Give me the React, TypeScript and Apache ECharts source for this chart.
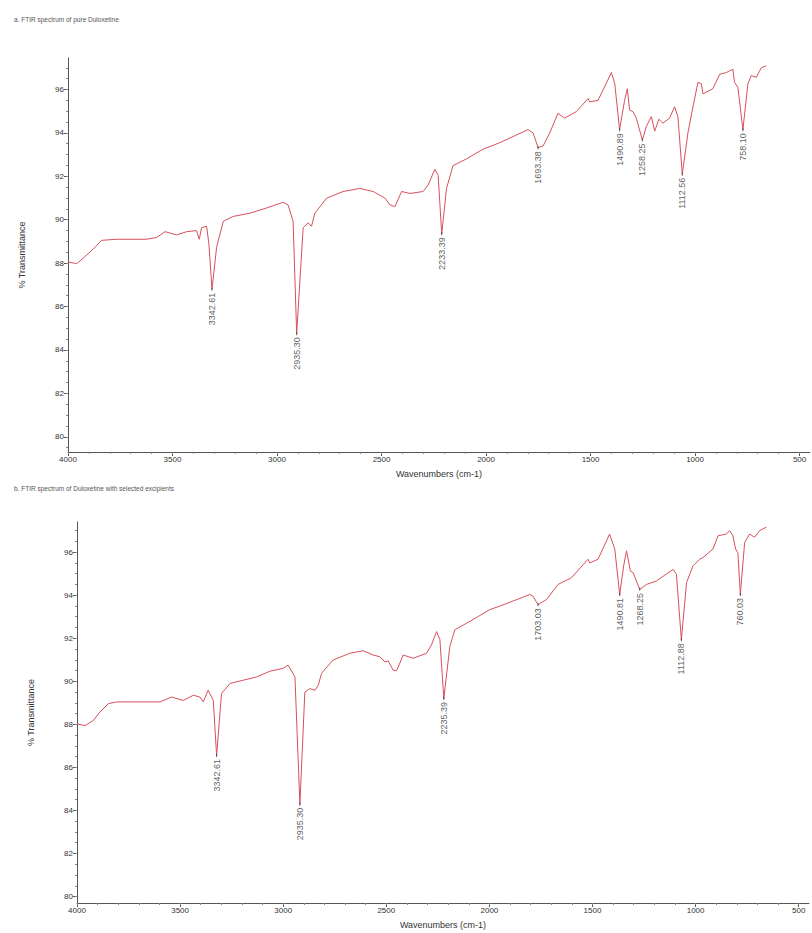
import React, { useEffect, useRef } from "react";
import * as echarts from "echarts";

// ---------- data ----------
const TITLE_A = "a. FTIR spectrum of pure Duloxetine";
const TITLE_B = "b. FTIR spectrum of Duloxetine with selected excipients";

const X_TICKS = [500, 1000, 1500, 2000, 2500, 3000, 3500, 4000];
const Y_TICKS = [80, 82, 84, 86, 88, 90, 92, 94, 96];

const TOP_WN = [4000, 3958, 3919, 3879, 3839, 3767, 3624, 3576, 3536, 3480, 3432, 3385, 3372, 3361, 3337, 3326, 3311, 3289, 3257, 3210, 3130, 3050, 2971, 2947, 2923, 2906, 2875, 2851, 2835, 2819, 2763, 2684, 2604, 2540, 2484, 2460, 2436, 2404, 2365, 2301, 2277, 2245, 2229, 2212, 2189, 2158, 2094, 2014, 1934, 1799, 1775, 1751, 1727, 1695, 1656, 1624, 1568, 1512, 1504, 1464, 1400, 1384, 1361, 1337, 1324, 1313, 1297, 1281, 1252, 1233, 1209, 1193, 1173, 1154, 1122, 1098, 1082, 1061, 1034, 1010, 986, 970, 962, 915, 882, 850, 835, 819, 811, 795, 771, 747, 731, 707, 683, 659];
const TOP_T = [88.05, 87.98, 88.3, 88.65, 89.05, 89.1, 89.1, 89.18, 89.45, 89.3, 89.45, 89.5, 89.1, 89.63, 89.7, 88.9, 86.8, 88.73, 89.93, 90.15, 90.3, 90.54, 90.8, 90.68, 89.93, 84.75, 89.63, 89.86, 89.7, 90.3, 90.99, 91.3, 91.44, 91.3, 91.0, 90.69, 90.6, 91.3, 91.21, 91.3, 91.6, 92.32, 92.05, 89.35, 91.44, 92.49, 92.8, 93.25, 93.55, 94.15, 94.0, 93.32, 93.4, 94.0, 94.9, 94.68, 94.98, 95.58, 95.43, 95.5, 96.78, 96.26, 94.15, 95.5, 96.03, 95.05, 94.98, 94.68, 93.67, 94.3, 94.75, 94.08, 94.63, 94.45, 94.68, 95.2, 94.75, 92.1, 94.0, 95.2, 96.33, 96.26, 95.8, 96.03, 96.7, 96.78, 96.86, 96.93, 96.33, 96.1, 94.15, 96.26, 96.64, 96.56, 97.0, 97.09];

const BOT_WN = [4000, 3961, 3921, 3889, 3848, 3808, 3598, 3541, 3485, 3436, 3404, 3388, 3364, 3339, 3323, 3299, 3258, 3194, 3129, 3064, 3000, 2976, 2943, 2919, 2895, 2871, 2846, 2830, 2814, 2758, 2677, 2612, 2564, 2531, 2507, 2491, 2467, 2450, 2418, 2370, 2305, 2281, 2256, 2240, 2221, 2192, 2168, 2095, 1998, 1950, 1804, 1788, 1764, 1723, 1667, 1602, 1522, 1513, 1473, 1417, 1392, 1368, 1349, 1335, 1316, 1303, 1271, 1238, 1190, 1109, 1093, 1069, 1044, 1013, 980, 964, 916, 891, 851, 835, 819, 806, 795, 783, 762, 738, 714, 689, 657];
const BOT_T = [88.02, 87.94, 88.18, 88.57, 88.96, 89.04, 89.04, 89.27, 89.11, 89.35, 89.27, 89.04, 89.58, 89.11, 86.55, 89.43, 89.9, 90.05, 90.2, 90.47, 90.6, 90.75, 90.2, 84.29, 89.5, 89.66, 89.58, 89.82, 90.37, 90.99, 91.3, 91.42, 91.22, 91.14, 90.9, 90.95, 90.52, 90.49, 91.22, 91.07, 91.3, 91.69, 92.31, 91.93, 89.2, 91.61, 92.39, 92.78, 93.33, 93.49, 94.03, 93.95, 93.56, 93.8, 94.5, 94.81, 95.67, 95.5, 95.67, 96.84, 96.14, 94.03, 95.36, 96.06, 95.12, 95.05, 94.27, 94.5, 94.66, 95.2, 94.97, 91.93, 94.58, 95.36, 95.67, 95.75, 96.14, 96.76, 96.84, 97.0, 96.76, 96.14, 95.98, 94.03, 96.45, 96.84, 96.69, 97.0, 97.16];

const TOP_PEAK_WN = [3311, 2906, 2212, 1751, 1361, 1252, 1061, 771];
const TOP_PEAK_T = [86.8, 84.75, 89.35, 93.32, 94.15, 93.67, 92.1, 94.15];
const TOP_PEAK_LABELS = ["3342.61", "2935.30", "2233.39", "1693.38", "1490.89", "1258.25", "1112.56", "758.10"];

const BOT_PEAK_WN = [3323, 2919, 2221, 1764, 1368, 1271, 1069, 783];
const BOT_PEAK_T = [86.55, 84.29, 89.2, 93.56, 94.03, 94.27, 91.93, 94.03];
const BOT_PEAK_LABELS = ["3342.61", "2935.30", "2235.39", "1703.03", "1490.81", "1268.25", "1112.88", "760.03"];

// ---------- styles ----------
const LINE_COLOR = "#d6505a";
const AXIS_COLOR = "#555";
const FONT = "Liberation Sans, Arial, sans-serif";

const X_MIN = 450;
const X_MAX = 4000;

function range(a: number, b: number, step: number) {
  const out: number[] = [];
  for (let v = a; v <= b + 1e-9; v += step) out.push(Math.round(v * 100) / 100);
  return out;
}
const X_MINOR = range(500, 4000, 100);
const Y_MINOR = range(79.5, 97.5, 0.5);

function xAxes(grid: number) {
  return [
    {
      type: "value",
      gridIndex: grid,
      position: "bottom",
      min: X_MIN,
      max: X_MAX,
      inverse: true,
      name: "Wavenumbers (cm-1)",
      nameLocation: "middle",
      nameGap: 17,
      nameTextStyle: { fontSize: 9, color: "#333", fontFamily: FONT },
      axisLine: { show: true, lineStyle: { color: AXIS_COLOR, width: 1 } },
      axisTick: { show: true, length: 4, customValues: X_TICKS, lineStyle: { color: AXIS_COLOR } },
      axisLabel: {
        show: true,
        customValues: X_TICKS,
        formatter: (v: number) => String(v),
        fontSize: 8,
        color: "#333",
        margin: 3,
        fontFamily: FONT,
      },
      splitLine: { show: false },
    },
    {
      type: "value",
      gridIndex: grid,
      position: "bottom",
      min: X_MIN,
      max: X_MAX,
      inverse: true,
      axisLine: { show: false },
      axisTick: { show: true, length: 2, customValues: X_MINOR, lineStyle: { color: "#888" } },
      axisLabel: { show: false },
      splitLine: { show: false },
    },
  ];
}

function yAxes(grid: number, min: number, max: number) {
  return [
    {
      type: "value",
      gridIndex: grid,
      position: "left",
      min,
      max,
      name: "% Transmittance",
      nameLocation: "middle",
      nameGap: 42,
      nameTextStyle: { fontSize: 9, color: "#333", fontFamily: FONT },
      axisLine: { show: true, lineStyle: { color: AXIS_COLOR, width: 1 } },
      axisTick: { show: true, length: 4, customValues: Y_TICKS, lineStyle: { color: AXIS_COLOR } },
      axisLabel: {
        show: true,
        customValues: Y_TICKS,
        formatter: (v: number) => String(v),
        fontSize: 8,
        color: "#333",
        margin: 4,
        fontFamily: FONT,
      },
      splitLine: { show: false },
    },
    {
      type: "value",
      gridIndex: grid,
      position: "left",
      min,
      max,
      axisLine: { show: false },
      axisTick: { show: true, length: 2, customValues: Y_MINOR, lineStyle: { color: "#888" } },
      axisLabel: { show: false },
      splitLine: { show: false },
    },
  ];
}

function pairs(xs: number[], ys: number[]) {
  return xs.map((x, i) => [x, ys[i]]);
}

function peakSeries(xi: number, yi: number, wn: number[], t: number[], labels: string[]) {
  return {
    type: "scatter",
    xAxisIndex: xi,
    yAxisIndex: yi,
    symbol: "rect",
    symbolSize: [1, 3],
    itemStyle: { color: "#333" },
    data: wn.map((w, i) => ({ value: [w, t[i]], name: labels[i] })),
    label: {
      show: true,
      position: "bottom",
      distance: 2,
      rotate: 90,
      align: "right",
      verticalAlign: "middle",
      formatter: (p: any) => p.name,
      fontSize: 9,
      color: "#333",
      fontFamily: FONT,
    },
    silent: true,
    z: 5,
  };
}

export default function App() {
  const ref = useRef<HTMLDivElement>(null);
  useEffect(() => {
    document.body.style.margin = "0";
    if (!ref.current) return;
    const chart = echarts.init(ref.current, null, { renderer: "svg" });
    const option: any = {
      animation: false,
      backgroundColor: "#ffffff",
      title: [
        { text: TITLE_A, left: 9, top: 11, textStyle: { fontSize: 6.5, fontWeight: "normal", color: "#555", fontFamily: FONT } },
        { text: TITLE_B, left: 9, top: 480, textStyle: { fontSize: 6.5, fontWeight: "normal", color: "#555", fontFamily: FONT } },
      ],
      grid: [
        { left: 68, top: 58, width: 742, height: 394, containLabel: false },
        { left: 77, top: 522, width: 732, height: 381, containLabel: false },
      ],
      xAxis: [...xAxes(0), ...xAxes(1)],
      yAxis: [...yAxes(0, 79.3, 97.45), ...yAxes(1, 79.7, 97.4)],
      series: [
        {
          type: "line",
          xAxisIndex: 0,
          yAxisIndex: 0,
          data: pairs(TOP_WN, TOP_T),
          showSymbol: false,
          symbol: "none",
          lineStyle: { color: LINE_COLOR, width: 1 },
          silent: true,
        },
        {
          type: "line",
          xAxisIndex: 2,
          yAxisIndex: 2,
          data: pairs(BOT_WN, BOT_T),
          showSymbol: false,
          symbol: "none",
          lineStyle: { color: LINE_COLOR, width: 1 },
          silent: true,
        },
        peakSeries(0, 0, TOP_PEAK_WN, TOP_PEAK_T, TOP_PEAK_LABELS),
        peakSeries(2, 2, BOT_PEAK_WN, BOT_PEAK_T, BOT_PEAK_LABELS),
      ],
    };
    chart.setOption(option);
    return () => chart.dispose();
  }, []);
  return <div ref={ref} style={{ width: 812, height: 933 }} />;
}
